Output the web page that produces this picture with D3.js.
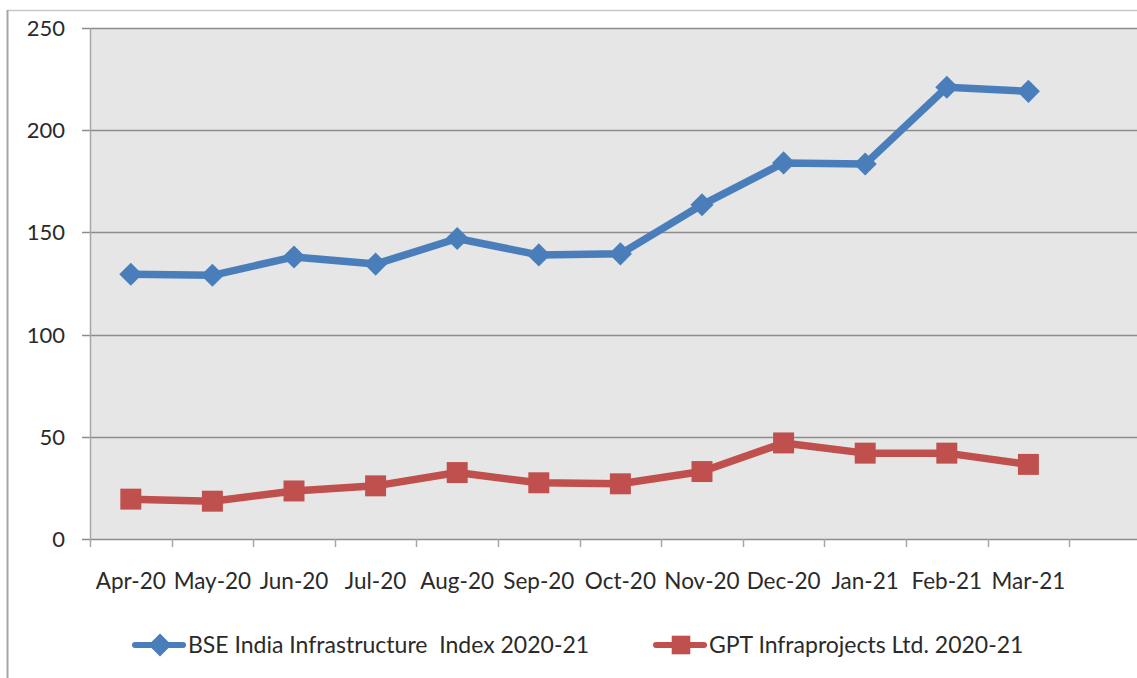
<!DOCTYPE html>
<html>
<head>
<meta charset="utf-8">
<script src="https://cdn.jsdelivr.net/npm/d3@7"></script>
<style>
  body { margin: 0; background: #fff; }
  svg { display: block; font-family: Lato, "Open Sans", sans-serif; }
</style>
</head>
<body>
<svg id="drawing_region"></svg>
<script>
// categories (last one is an empty slot, like the original chart)
const months = ["Apr-20","May-20","Jun-20","Jul-20","Aug-20","Sep-20","Oct-20","Nov-20","Dec-20","Jan-21","Feb-21","Mar-21",""];
const bseValues = [129.5, 129, 138, 134.5, 147, 139, 139.5, 163.5, 184, 183.5, 221, 219];
const gptValues = [19.5, 18.5, 23.5, 26, 32.5, 27.5, 27, 33, 47, 42, 42, 36.5];
const yTicks = [0, 50, 100, 150, 200, 250];
const seriesNames = ["BSE India Infrastructure  Index 2020-21", "GPT Infraprojects Ltd. 2020-21"];

const width = 1137, height = 678;
const margin = {top: 28, left: 90, bottom: 139};
const plotW = 13 * 81.6;
const innerH = height - margin.top - margin.bottom;

const svg = d3.select('#drawing_region')
    .attr('width', width)
    .attr('height', height);

// outer chart border
svg.append('line').attr('x1', 7).attr('x2', width).attr('y1', 10.5).attr('y2', 10.5)
    .attr('stroke', '#c8c8c8').attr('stroke-width', 1.5);
svg.append('line').attr('x1', 7.5).attr('x2', 7.5).attr('y1', 10).attr('y2', height)
    .attr('stroke', '#a6a6a6').attr('stroke-width', 2);

const chart = svg.append('g')
    .attr('transform', `translate(${margin.left}, ${margin.top})`);

const xscale = d3.scaleBand().domain(months).range([0, plotW]).paddingInner(0).paddingOuter(0);
const yscale = d3.scaleLinear().domain([0, 250]).range([innerH, 0]);

// plot background
chart.append('rect')
    .attr('x', 0).attr('y', 0)
    .attr('width', plotW).attr('height', innerH)
    .attr('fill', '#e6e6e6');

// gridlines
chart.selectAll('.grid')
    .data(yTicks)
    .enter()
    .append('line')
    .attr('x1', -8).attr('x2', plotW)
    .attr('y1', d => Math.round(yscale(d)) + 0.5)
    .attr('y2', d => Math.round(yscale(d)) + 0.5)
    .attr('stroke', '#8c8c8c').attr('stroke-width', 1.3);

// y axis line
chart.append('line')
    .attr('x1', 0.5).attr('x2', 0.5).attr('y1', 0).attr('y2', innerH + 8)
    .attr('stroke', '#a6a6a6').attr('stroke-width', 1.5);

// x ticks at band edges
chart.selectAll('.xtick')
    .data(months.slice(1).concat(['end']))
    .enter()
    .append('line')
    .attr('x1', (d, i) => Math.round(xscale.step() * (i + 1)) + 0.5)
    .attr('x2', (d, i) => Math.round(xscale.step() * (i + 1)) + 0.5)
    .attr('y1', innerH).attr('y2', innerH + 8)
    .attr('stroke', '#a6a6a6').attr('stroke-width', 1.5);

// y tick labels
chart.selectAll('.ylab')
    .data(yTicks)
    .enter()
    .append('text')
    .attr('x', -25)
    .attr('y', d => yscale(d) + 8)
    .attr('text-anchor', 'end')
    .attr('font-size', '22px')
    .attr('fill', '#2a2a2a')
    .text(d => d);

// x tick labels
chart.selectAll('.xlab')
    .data(months.filter(m => m !== ''))
    .enter()
    .append('text')
    .attr('x', d => xscale(d) + xscale.bandwidth() / 2)
    .attr('y', innerH + 50)
    .attr('text-anchor', 'middle')
    .attr('font-size', '22.5px')
    .attr('fill', '#2a2a2a')
    .text(d => d);

const line = d3.line()
    .x((d, i) => xscale(months[i]) + xscale.bandwidth() / 2)
    .y(d => yscale(d));

const diamond = d3.symbol().type(d3.symbolDiamond2).size(340);
const square = d3.symbol().type(d3.symbolSquare2).size(560);

function drawSeries(values, color, sym) {
    chart.append('path')
        .attr('d', line(values))
        .attr('fill', 'none')
        .attr('stroke', color)
        .attr('stroke-width', 7.5)
        .attr('stroke-linejoin', 'round');
    chart.selectAll(null)
        .data(values)
        .enter()
        .append('path')
        .attr('d', sym)
        .attr('transform', (d, i) => `translate(${xscale(months[i]) + xscale.bandwidth() / 2}, ${yscale(d)})`)
        .attr('fill', color);
}

drawSeries(bseValues, '#4a7ebb', diamond);
drawSeries(gptValues, '#c0504d', square);

// legend
const legend = svg.append('g');
const legendItems = [
    {name: seriesNames[0], color: '#4a7ebb', sym: diamond, x: 135},
    {name: seriesNames[1], color: '#c0504d', sym: d3.symbol().type(d3.symbolSquare2).size(440), x: 656}
];
const ly = 645;
legendItems.forEach(item => {
    legend.append('line')
        .attr('x1', item.x).attr('x2', item.x + 48)
        .attr('y1', ly).attr('y2', ly)
        .attr('stroke', item.color).attr('stroke-width', 6)
        .attr('stroke-linecap', 'round');
    legend.append('path')
        .attr('d', item.sym)
        .attr('transform', `translate(${item.x + 25}, ${ly})`)
        .attr('fill', item.color);
    legend.append('text')
        .attr('x', item.x + 53)
        .attr('y', ly + 8)
        .attr('font-size', '23px')
        .attr('fill', '#2a2a2a')
        .style('white-space', 'pre')
        .text(item.name);
});
</script>
</body>
</html>
